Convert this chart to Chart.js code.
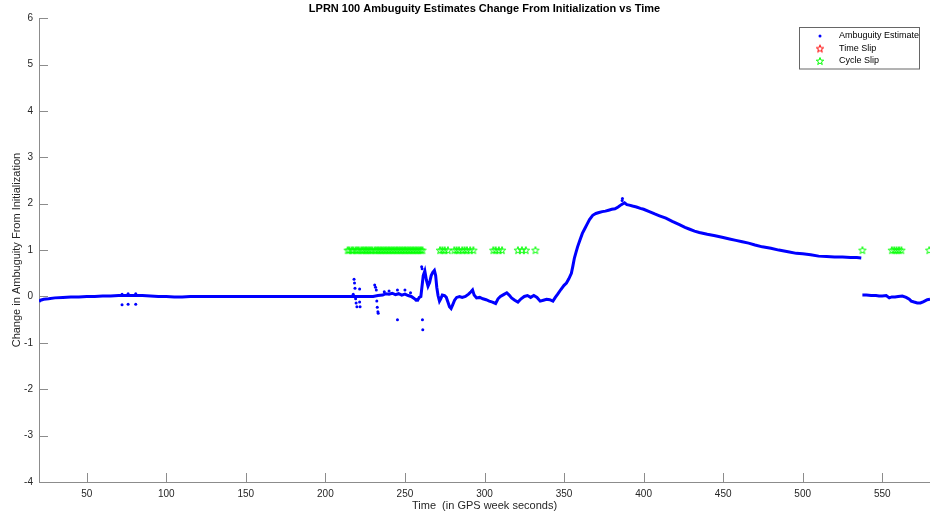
<!DOCTYPE html>
<html>
<head>
<meta charset="utf-8">
<title>LPRN 100 Ambuguity Estimates</title>
<script src="https://cdn.jsdelivr.net/npm/chart.js@4.4.1/dist/chart.umd.min.js"></script>
<style>
  html, body { margin: 0; padding: 0; background: #fff; }
  #wrap { width: 930px; height: 516px; }
</style>
</head>
<body>
<div id="wrap"><canvas id="ambChart" width="930" height="516"></canvas></div>
<script>
// --- data ---
// main trend until the reset near t=537
const timeTrend = [
  20, 21, 23, 26, 30, 35, 40, 45, 50, 55,
  60, 65, 70, 75, 80, 85, 90, 95, 100, 105,
  110, 115, 120, 130, 140, 150, 160, 170, 180, 190,
  200, 210, 215, 220, 225, 230, 233, 236, 238, 240,
  242, 244, 246, 248, 250, 252, 254, 256, 258, 259,
  260, 261.5, 262.5, 263.5, 264.5, 265.5, 266.5, 267.5, 268.5, 269.3,
  270, 270.8, 271.7, 272.5, 273.5, 274.9, 276, 277, 278, 279,
  280, 281.2, 282.5, 284.3, 286, 288, 290, 291.5, 292.5, 293.5,
  295, 297, 299, 301, 303, 305, 307, 308.5, 310, 312,
  314, 315.5, 317, 319, 321, 323, 325, 327, 329, 331,
  333, 335, 337, 339, 341, 343, 344.5, 346, 348, 350,
  351.5, 353, 354.6, 355.5, 356.5, 357.5, 358.5, 360, 361.5, 363,
  364.5, 366, 368, 370, 372, 374, 376, 378, 380, 382,
  384, 386, 387, 388, 389.5, 391, 393, 395.5, 398, 400,
  403.6, 407, 410, 414, 418, 422.5, 426, 429, 432, 435,
  440, 445, 450, 454, 458, 462, 466, 470, 474.6, 480,
  485, 491.6, 496, 500, 505, 510, 515, 520, 525, 530,
  534, 536.8
];
const ambTrend = [
  -0.11, -0.08, -0.06, -0.05, -0.03, -0.02, -0.01, -0.01, 0.00, 0.00,
  0.01, 0.01, 0.02, 0.02, 0.02, 0.02, 0.01, 0.00, 0.00, -0.01,
  -0.01, 0.00, 0.00, 0.00, 0.00, 0.00, 0.00, 0.00, 0.00, 0.00,
  0.00, 0.00, 0.00, 0.00, 0.00, 0.00, 0.02, 0.03, 0.06, 0.05,
  0.07, 0.04, 0.06, 0.03, 0.05, 0.02, 0.00, -0.05, -0.08, -0.02,
  0.00, 0.45, 0.55, 0.35, 0.22, 0.30, 0.45, 0.52, 0.56, 0.45,
  0.20, 0.02, -0.10, -0.05, 0.03, 0.02, -0.02, -0.12, -0.22, -0.26,
  -0.18, -0.08, -0.02, 0.00, -0.02, 0.00, 0.05, 0.10, 0.14, 0.03,
  -0.03, -0.02, -0.05, -0.07, -0.10, -0.12, -0.15, -0.05, 0.00, 0.04,
  0.08, 0.03, -0.03, -0.08, -0.12, -0.05, 0.00, 0.02, -0.02, 0.02,
  -0.02, -0.10, -0.08, -0.06, -0.07, -0.10, -0.02, 0.05, 0.15, 0.24,
  0.29, 0.38, 0.50, 0.65, 0.83, 0.95, 1.07, 1.22, 1.36, 1.46,
  1.56, 1.66, 1.75, 1.79, 1.81, 1.83, 1.84, 1.86, 1.88, 1.89,
  1.93, 1.98, 2.00, 2.02, 1.98, 1.97, 1.95, 1.93, 1.90, 1.88,
  1.83, 1.78, 1.74, 1.69, 1.62, 1.55, 1.49, 1.45, 1.41, 1.38,
  1.34, 1.31, 1.27, 1.24, 1.21, 1.18, 1.15, 1.11, 1.07, 1.04,
  1.00, 0.96, 0.93, 0.92, 0.90, 0.87, 0.86, 0.85, 0.85, 0.84,
  0.84, 0.83
];

// after the reset
const timeReset = [537.5, 540, 543, 546, 548, 550, 552.5, 554.4, 556, 558,
  560, 562.6, 565, 567, 568.2, 570, 572, 574, 576, 578.3, 580];
const ambReset = [0.03, 0.03, 0.02, 0.02, 0.01, 0.01, 0.02, -0.03, -0.01, -0.01,
  0.00, 0.01, -0.02, -0.06, -0.10, -0.12, -0.14, -0.14, -0.11, -0.07, -0.06];

// loose estimates off the trend
const timeScatter = [72.2, 72.2, 76, 76, 80.8, 80.8,
  217.5, 218, 218.3, 218.6, 219, 219.3, 219.8, 221.5, 221.5, 221.8,
  231, 231.5, 232, 232.3, 232.6, 233, 233.2,
  237, 240, 245.3, 245.3, 250, 253.5, 257,
  260.5, 260.8, 261, 261.2,
  386.5, 386.7];
const ambScatter = [0.05, -0.18, 0.06, -0.17, 0.06, -0.17,
  0.05, 0.37, 0.29, 0.18, -0.05, -0.14, -0.22, 0.16, -0.12, -0.22,
  0.25, 0.20, 0.14, -0.10, -0.23, -0.33, -0.36,
  0.10, 0.12, 0.14, -0.50, 0.14, 0.08, -0.08,
  0.64, 0.60, -0.50, -0.72,
  2.07, 2.11];

// slips (all marked at 1)
const slipLevel = 1;
const timeTimeSlip = [];
const timeCycleSlip = [214, 215, 216.5, 217.5, 219, 220, 221, 222.5, 223.5, 224.5,
  225.5, 226.5, 227.5, 228.5, 229.5, 231, 232, 233, 234, 235,
  236, 237, 238, 239, 240, 241, 242, 243, 244, 245,
  246, 247, 248, 249, 250, 251, 252, 253, 254, 255,
  256, 257, 258, 259, 260, 261,
  272, 273.5, 275, 277,
  281, 282.5, 284, 286, 287.5, 289, 291, 293,
  305.5, 307, 309, 311,
  321, 323.5, 326,
  332,
  537.5,
  556, 557.5, 559, 560.5, 562,
  579.5];

const xTickValues = [50, 100, 150, 200, 250, 300, 350, 400, 450, 500, 550];
const yTickValues = [-4, -3, -2, -1, 0, 1, 2, 3, 4, 5, 6];

// --- helpers ---
const pairs = (xs, ys) => xs.map((x, i) => ({ x: x, y: ys[i] }));
const level = (xs) => xs.map(x => ({ x: x, y: slipLevel }));

function makeStar(color) {
  // matlab-style pentagram outline
  const c = document.createElement('canvas');
  c.width = 10; c.height = 10;
  const g = c.getContext('2d');
  g.strokeStyle = color;
  g.lineWidth = 1;
  g.beginPath();
  for (let i = 0; i < 10; i++) {
    const r = i % 2 ? 1.6 : 3.9;
    const a = -Math.PI / 2 + i * Math.PI / 5;
    const px = 5 + r * Math.cos(a), py = 5.4 + r * Math.sin(a);
    if (i === 0) g.moveTo(px, py); else g.lineTo(px, py);
  }
  g.closePath();
  g.stroke();
  return c;
}

const BLUE = '#0000ff';
const redStar = makeStar('#ff0000');
const greenStar = makeStar('#00ff00');

// inward tick marks like matlab
const innerTicks = {
  id: 'innerTicks',
  beforeDatasetsDraw(chart) {
    const { ctx, chartArea, scales } = chart;
    ctx.save();
    ctx.strokeStyle = '#8c8c8c';
    ctx.lineWidth = 1;
    ctx.beginPath();
    scales.x.ticks.forEach(t => {
      const px = Math.round(scales.x.getPixelForValue(t.value)) + 0.5;
      ctx.moveTo(px, chartArea.bottom);
      ctx.lineTo(px, chartArea.bottom - 9);
    });
    scales.y.ticks.forEach(t => {
      const py = Math.round(scales.y.getPixelForValue(t.value)) + 0.5;
      ctx.moveTo(chartArea.left, py);
      ctx.lineTo(chartArea.left + 9, py);
    });
    ctx.stroke();
    ctx.restore();
  }
};

// boxed legend in the top right corner of the axes
const legendBox = {
  id: 'legendBox',
  afterDraw(chart) {
    const { ctx, chartArea } = chart;
    const items = chart.data.datasets.filter(d => d.inLegend);
    const w = 120, rowH = 12.5, h = items.length * rowH + 4;
    const x0 = Math.round(chartArea.right - 11 - w), y0 = Math.round(chartArea.top + 9);
    ctx.save();
    ctx.fillStyle = '#fff';
    ctx.fillRect(x0, y0, w, h);
    ctx.strokeStyle = '#666';
    ctx.lineWidth = 1;
    ctx.strokeRect(x0 + 0.5, y0 + 0.5, w, h);
    ctx.font = '9px "Liberation Sans", Arial, sans-serif';
    ctx.fillStyle = '#000';
    ctx.textBaseline = 'middle';
    items.forEach((d, i) => {
      const cy = y0 + 9 + i * rowH;
      const mx = x0 + 21;
      if (d.pointStyle instanceof HTMLCanvasElement) {
        ctx.drawImage(d.pointStyle, mx - 5, cy - 5);
      } else {
        ctx.fillStyle = BLUE;
        ctx.beginPath();
        ctx.arc(mx, cy, 1.5, 0, Math.PI * 2);
        ctx.fill();
        ctx.fillStyle = '#000';
      }
      ctx.fillText(d.label, x0 + 40, cy);
    });
    ctx.restore();
  }
};

Chart.defaults.font.family = '"Liberation Sans", Arial, Helvetica, sans-serif';

new Chart(document.getElementById('ambChart'), {
  type: 'scatter',
  data: {
    datasets: [
      {
        label: 'Ambuguity Estimate',
        inLegend: true,
        data: pairs(timeTrend, ambTrend),
        showLine: true,
        borderColor: BLUE,
        backgroundColor: BLUE,
        borderWidth: 3,
        pointRadius: 0,
        tension: 0
      },
      {
        label: 'reset',
        data: pairs(timeReset, ambReset),
        showLine: true,
        borderColor: BLUE,
        backgroundColor: BLUE,
        borderWidth: 3,
        pointRadius: 0
      },
      {
        label: 'scatter',
        data: pairs(timeScatter, ambScatter),
        pointRadius: 1.5,
        pointBorderWidth: 0,
        backgroundColor: BLUE,
        borderColor: BLUE
      },
      {
        label: 'Time Slip',
        inLegend: true,
        data: level(timeTimeSlip),
        pointStyle: redStar,
        borderColor: '#ff0000'
      },
      {
        label: 'Cycle Slip',
        inLegend: true,
        data: level(timeCycleSlip),
        pointStyle: greenStar,
        borderColor: '#00ff00'
      }
    ]
  },
  options: {
    responsive: false,
    animation: false,
    devicePixelRatio: 1,
    layout: { padding: 0, autoPadding: false },
    plugins: {
      legend: { display: false },
      tooltip: { enabled: false },
      title: {
        display: true,
        fullSize: false,
        text: 'LPRN 100 Ambuguity Estimates Change From Initialization vs Time',
        color: '#000',
        font: { size: 11, weight: 'bold' },
        padding: { top: 2, bottom: 3 }
      }
    },
    scales: {
      x: {
        type: 'linear',
        min: 20,
        max: 580,
        border: { display: true, color: '#8c8c8c', width: 1 },
        grid: { display: false, drawTicks: false },
        ticks: { color: '#262626', font: { size: 10 }, padding: 6, maxRotation: 0, autoSkip: false },
        title: {
          display: true,
          text: 'Time  (in GPS week seconds)',
          color: '#262626',
          font: { size: 11 },
          padding: { top: 0, bottom: 3 }
        },
        afterBuildTicks: s => { s.ticks = xTickValues.map(v => ({ value: v })); },
        afterFit: s => { s.height = 34; }
      },
      y: {
        min: -4,
        max: 6,
        border: { display: true, color: '#8c8c8c', width: 1 },
        grid: { display: false, drawTicks: false },
        ticks: { color: '#262626', font: { size: 10 }, padding: 6 },
        title: {
          display: true,
          text: 'Change in Ambuguity From Initialization',
          color: '#262626',
          font: { size: 11 },
          padding: { top: 10, bottom: 0 }
        },
        afterBuildTicks: s => { s.ticks = yTickValues.map(v => ({ value: v })); },
        afterFit: s => { s.width = 39; }
      }
    }
  },
  plugins: [innerTicks, legendBox]
});
</script>
</body>
</html>
